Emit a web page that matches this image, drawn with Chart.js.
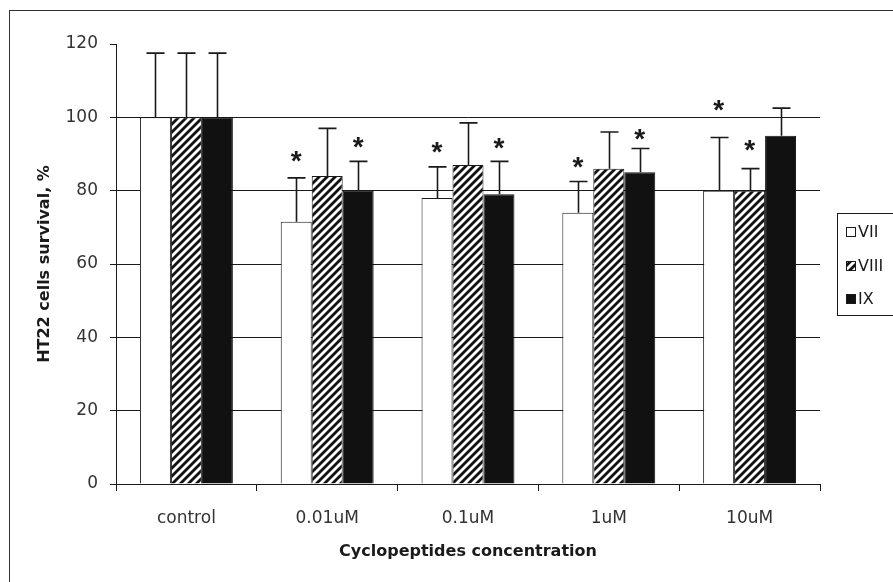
<!DOCTYPE html>
<html>
<head>
<meta charset="utf-8">
<title>HT22 cells survival</title>
<script src="https://cdn.jsdelivr.net/npm/chart.js@4/dist/chart.umd.min.js"></script>
<style>
  html, body { margin: 0; padding: 0; background: #fff; }
  #wrap { width: 893px; height: 582px; }
</style>
</head>
<body>
<div id="wrap"><canvas id="chart" width="893" height="582"></canvas></div>
<script>
// ===== Data =====
const categories  = ['control', '0.01uM', '0.1uM', '1uM', '10uM'];
const seriesNames = ['VII', 'VIII', 'IX'];

const valuesVII  = [100, 71.5, 78, 74, 80];
const valuesVIII = [100, 84, 87, 86, 80];
const valuesIX   = [100, 80, 79, 85, 95];

// upper error bar length
const errVII  = [17.5, 12, 8.5, 8.5, 14.5];
const errVIII = [17.5, 13, 11.5, 10, 6];
const errIX   = [17.5, 8, 9, 6.5, 7.5];

// where the significance stars sit (value units), null = no star
const starVII  = [null, 90, 92.5, 88.5, 104];
const starVIII = [null, null, null, null, 93];
const starIX   = [null, 94, 93.5, 96, null];

const yTicks = [0, 20, 40, 60, 80, 100, 120];

// ===== Helpers =====
const FONT = 'DejaVu Sans';
const INK  = '#1a1a1a';

function hatch(ctx) {
  const c = document.createElement('canvas');
  c.width = 8; c.height = 8;
  const g = c.getContext('2d');
  g.fillStyle = '#fff';
  g.fillRect(0, 0, 8, 8);
  g.strokeStyle = '#111';
  g.lineWidth = 2.8;
  g.beginPath();
  g.moveTo(-1, 9); g.lineTo(9, -1);
  g.moveTo(-3, 3); g.lineTo(3, -3);
  g.moveTo(5, 11); g.lineTo(11, 5);
  g.stroke();
  return ctx.createPattern(c, 'repeat');
}

const canvas = document.getElementById('chart');
const ctx = canvas.getContext('2d');
const stripes = hatch(ctx);

const errors = [errVII, errVIII, errIX];
const stars  = [starVII, starVIII, starIX];

// ===== Plugins =====
const errorBars = {
  id: 'errorBars',
  afterDatasetsDraw(chart) {
    const y = chart.scales.y;
    const c = chart.ctx;
    c.save();
    c.strokeStyle = INK;
    c.lineWidth = 1.6;
    chart.data.datasets.forEach((ds, i) => {
      chart.getDatasetMeta(i).data.forEach((bar, j) => {
        const top = y.getPixelForValue(ds.data[j] + errors[i][j]);
        const x = Math.round(bar.x) + 0.5;
        c.beginPath();
        c.moveTo(x, bar.y);
        c.lineTo(x, top);
        c.moveTo(x - 9, top);
        c.lineTo(x + 9, top);
        c.stroke();
      });
    });
    // stars
    const fs = 28;
    c.fillStyle = INK;
    c.font = 'bold ' + fs + 'px "Liberation Sans"';
    c.textAlign = 'center';
    c.textBaseline = 'alphabetic';
    chart.data.datasets.forEach((ds, i) => {
      chart.getDatasetMeta(i).data.forEach((bar, j) => {
        if (stars[i][j] == null) return;
        const sy = y.getPixelForValue(stars[i][j]);
        c.fillText('*', bar.x, sy + 0.58 * fs);
      });
    });
    c.restore();
  }
};

const frameAndLegend = {
  id: 'frameAndLegend',
  afterDraw(chart) {
    const c = chart.ctx;
    c.save();
    // outer frame (only top/left fall inside the picture)
    c.strokeStyle = '#333';
    c.lineWidth = 1;
    c.strokeRect(9.5, 10.5, 900, 600);

    // legend box
    c.strokeStyle = INK;
    c.strokeRect(837.5, 213.5, 80, 102);
    const rows = [232, 266, 299];
    c.font = '16px ' + FONT;
    c.textBaseline = 'middle';
    c.textAlign = 'left';
    chart.data.datasets.forEach((ds, i) => {
      const ry = rows[i];
      c.fillStyle = ds.backgroundColor;
      c.fillRect(846, ry - 4, 9, 9);
      c.strokeStyle = INK;
      c.strokeRect(846.5, ry - 4.5, 9, 9);
      c.fillStyle = INK;
      c.fillText(ds.label, 858, ry + 1);
    });
    c.restore();
  }
};

// ===== Chart =====
new Chart(ctx, {
  type: 'bar',
  data: {
    labels: categories,
    datasets: [
      { label: seriesNames[0], data: valuesVII,  backgroundColor: '#ffffff', borderColor: INK, borderWidth: 1 },
      { label: seriesNames[1], data: valuesVIII, backgroundColor: stripes,   borderColor: INK, borderWidth: 1 },
      { label: seriesNames[2], data: valuesIX,   backgroundColor: '#111111', borderColor: '#111111', borderWidth: 1 }
    ]
  },
  options: {
    responsive: false,
    animation: false,
    devicePixelRatio: 1,
    categoryPercentage: 0.66,
    barPercentage: 1.0,
    layout: { padding: { left: 0, right: 73, top: 44, bottom: 0 } },
    plugins: { legend: { display: false }, tooltip: { enabled: false } },
    scales: {
      x: {
        grid: { drawOnChartArea: false, offset: true, color: INK, tickLength: 7 },
        border: { color: INK, width: 1 },
        ticks: { color: '#333', font: { family: FONT, size: 17 }, padding: 17 },
        title: {
          display: true,
          text: 'Cyclopeptides concentration',
          color: INK,
          font: { family: FONT, size: 16, weight: 'bold' },
          padding: { top: 0, bottom: 21 }
        },
        afterFit(scale) { scale.height = 98; }
      },
      y: {
        min: 0,
        max: 120,
        afterBuildTicks(scale) { scale.ticks = yTicks.map(v => ({ value: v })); },
        grid: {
          color: c => (c.tick && c.tick.value === 120 ? 'rgba(0,0,0,0)' : INK),
          tickColor: INK,
          tickLength: 6
        },
        border: { color: INK, width: 1 },
        ticks: { color: '#333', font: { family: FONT, size: 17 }, padding: 12 },
        title: {
          display: true,
          text: 'HT22 cells survival, %',
          color: INK,
          font: { family: FONT, size: 16, weight: 'bold' },
          padding: { top: 35, bottom: 0 }
        },
        afterFit(scale) { scale.width = 116; }
      }
    }
  },
  plugins: [errorBars, frameAndLegend]
});
</script>
</body>
</html>
